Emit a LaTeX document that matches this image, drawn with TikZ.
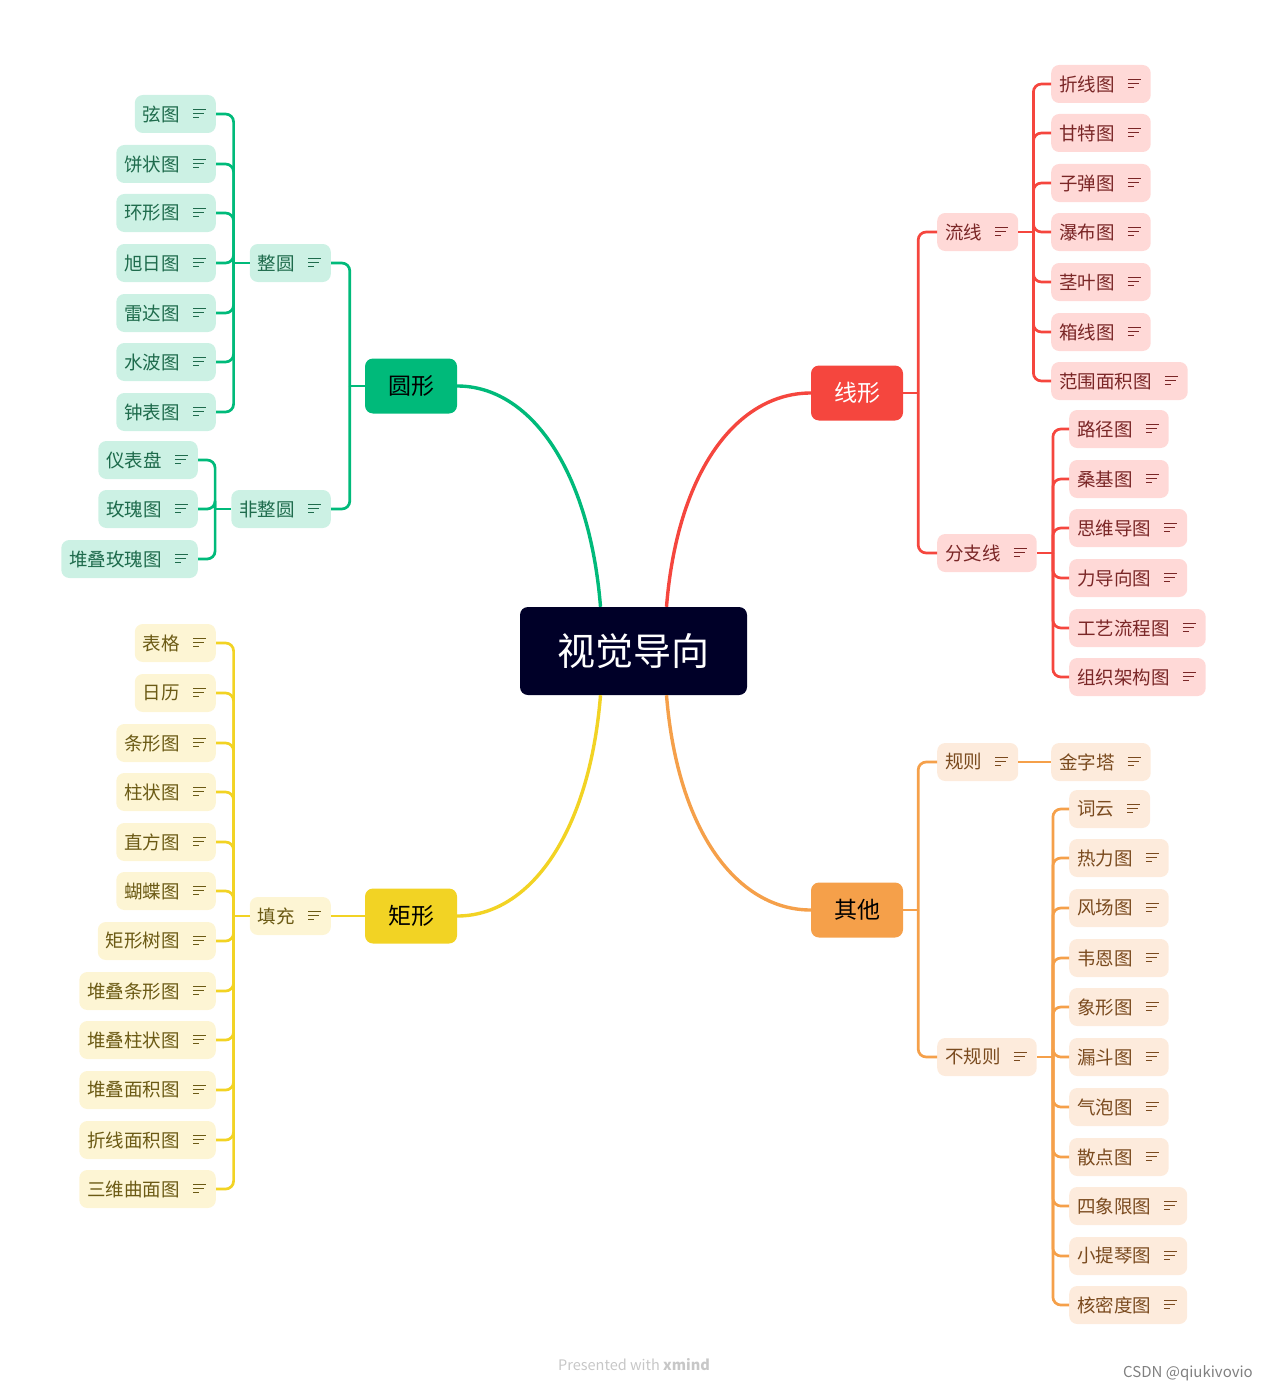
\documentclass[tikz,border=0pt]{standalone}
\usepackage{fontspec}
\setmainfont{Noto Sans CJK SC}
\definecolor{gM}{HTML}{00BA7A}
\definecolor{gL}{HTML}{CCF1E4}
\definecolor{gT}{HTML}{1E6B4C}
\definecolor{rM}{HTML}{F5463E}
\definecolor{rL}{HTML}{FFD9D7}
\definecolor{rT}{HTML}{7A2626}
\definecolor{yM}{HTML}{F2D324}
\definecolor{yL}{HTML}{FDF5D4}
\definecolor{yT}{HTML}{6B5A14}
\definecolor{oM}{HTML}{F5A04A}
\definecolor{oL}{HTML}{FDEBDC}
\definecolor{oT}{HTML}{7A4A1E}
\definecolor{rootc}{HTML}{000028}
\newcommand\noteicon[2]{\draw[#2, line width=1.7pt] (#1.east) ++(-23,-4.5) -- ++(13,0) (#1.east) ++(-23,-0.5) -- ++(11,0) (#1.east) ++(-23,3.5) -- ++(6,0);}
\newcommand\ic{\kern28pt}
\tikzset{
  box/.style={rounded corners=8pt, inner xsep=8pt, inner ysep=0pt, minimum height=38pt, font=\fontsize{18.5}{18.5}\selectfont},
  gbox/.style={box, fill=gL, text=gT},
  rbox/.style={box, fill=rL, text=rT},
  ybox/.style={box, fill=yL, text=yT},
  obox/.style={box, fill=oL, text=oT},
  mainbox/.style={rounded corners=8pt, minimum width=92pt, minimum height=55pt, inner sep=0pt, font=\fontsize{23}{23}\selectfont},
  conn/.style={line width=2.7pt},
  bigconn/.style={line width=3.4pt},
}
\begin{document}
\begin{tikzpicture}[x=1pt, y=-1pt]
\useasboundingbox (0,0) rectangle (1268,1391);
% root and main nodes
\node[rounded corners=8pt, fill=rootc, text=white, minimum width=227pt, minimum height=88pt, inner sep=0pt, font=\fontsize{38}{38}\selectfont] (root) at (633.5,651) {视觉导向};
\node[mainbox, fill=gM, text=black] (yuan) at (411,386) {圆形};
\node[mainbox, fill=rM, text=white] (xian) at (857,393) {线形};
\node[mainbox, fill=yM, text=black] (ju) at (411,916) {矩形};
\node[mainbox, fill=oM, text=black] (qt) at (857,910) {其他};
\draw[gM, bigconn] ([xshift=-33pt]root.north) .. controls +(-11,-137) and +(73,0) .. (yuan.east);
\draw[rM, bigconn] ([xshift=33pt]root.north) .. controls +(11,-137) and +(-73,0) .. (xian.west);
\draw[yM, bigconn] ([xshift=-33pt]root.south) .. controls +(-11,137) and +(73,0) .. (ju.east);
\draw[oM, bigconn] ([xshift=33pt]root.south) .. controls +(11,137) and +(-73,0) .. (qt.west);
% branch nodes
\node[gbox, anchor=east] (zy) at (331,263) {整圆\ic};
\node[gbox, anchor=east] (fzy) at (331,509) {非整圆\ic};
\node[rbox, anchor=west] (lx) at (937,232) {流线\ic};
\node[rbox, anchor=west] (fzx) at (937,553) {分支线\ic};
\node[ybox, anchor=east] (tc) at (331,916) {填充\ic};
\node[obox, anchor=west] (gz) at (937,762) {规则\ic};
\node[obox, anchor=west] (bgz) at (937,1057) {不规则\ic};
\foreach \n/\c in {zy/gT, fzy/gT, lx/rT, fzx/rT, tc/yT, gz/oT, bgz/oT} {\noteicon{\n}{\c}}
\draw[gM, conn] (yuan.west) -- ++(-15,0);
\draw[gM, conn, rounded corners=8pt] (yuan.west) ++(-15,0) |- (zy.east);
\draw[gM, conn, rounded corners=8pt] (yuan.west) ++(-15,0) |- (fzy.east);
\draw[rM, conn] (xian.east) -- ++(15,0);
\draw[rM, conn, rounded corners=8pt] (xian.east) ++(15,0) |- (lx.west);
\draw[rM, conn, rounded corners=8pt] (xian.east) ++(15,0) |- (fzx.west);
\draw[yM, conn] (ju.west) -- (tc.east);
\draw[oM, conn] (qt.east) -- ++(15,0);
\draw[oM, conn, rounded corners=8pt] (qt.east) ++(15,0) |- (gz.west);
\draw[oM, conn, rounded corners=8pt] (qt.east) ++(15,0) |- (bgz.west);
% green leaves
\draw[gM, conn] (zy.west) -- ++(-16,0);
\foreach \t/\y [count=\i] in {弦图/114, 饼状图/164, 环形图/213, 旭日图/263, 雷达图/313, 水波图/362, 钟表图/412} {
  \node[gbox, anchor=east] (ga\i) at (216,\y) {\t\ic};
  \draw[gM, conn, rounded corners=8pt] (zy.west) ++(-16,0) |- (ga\i.east);
  \noteicon{ga\i}{gT}
}
\draw[gM, conn] (fzy.west) -- ++(-16,0);
\foreach \t/\y [count=\i] in {仪表盘/460, 玫瑰图/509, 堆叠玫瑰图/559} {
  \node[gbox, anchor=east] (gb\i) at (198,\y) {\t\ic};
  \draw[gM, conn, rounded corners=8pt] (fzy.west) ++(-16,0) |- (gb\i.east);
  \noteicon{gb\i}{gT}
}
% red leaves
\draw[rM, conn] (lx.east) -- ++(15,0);
\foreach \t/\y [count=\i] in {折线图/84, 甘特图/133, 子弹图/183, 瀑布图/232, 茎叶图/282, 箱线图/332, 范围面积图/381} {
  \node[rbox, anchor=west] (ra\i) at (1051,\y) {\t\ic};
  \draw[rM, conn, rounded corners=8pt] (lx.east) ++(15,0) |- (ra\i.west);
  \noteicon{ra\i}{rT}
}
\draw[rM, conn] (fzx.east) -- ++(16,0);
\foreach \t/\y [count=\i] in {路径图/429, 桑基图/479, 思维导图/528, 力导向图/578, 工艺流程图/628, 组织架构图/677} {
  \node[rbox, anchor=west] (rb\i) at (1069,\y) {\t\ic};
  \draw[rM, conn, rounded corners=8pt] (fzx.east) ++(16,0) |- (rb\i.west);
  \noteicon{rb\i}{rT}
}
% yellow leaves
\draw[yM, conn] (tc.west) -- ++(-16,0);
\foreach \t/\y [count=\i] in {表格/643, 日历/693, 条形图/743, 柱状图/792, 直方图/842, 蝴蝶图/891, 矩形树图/941, 堆叠条形图/991, 堆叠柱状图/1040, 堆叠面积图/1090, 折线面积图/1140, 三维曲面图/1189} {
  \node[ybox, anchor=east] (ya\i) at (216,\y) {\t\ic};
  \draw[yM, conn, rounded corners=8pt] (tc.west) ++(-16,0) |- (ya\i.east);
  \noteicon{ya\i}{yT}
}
% orange leaves
\node[obox, anchor=west] (oa1) at (1051,762) {金字塔\ic};
\draw[oM, conn] (gz.east) -- (oa1.west);
\noteicon{oa1}{oT}
\draw[oM, conn] (bgz.east) -- ++(16,0);
\foreach \t/\y [count=\i] in {词云/809, 热力图/858, 风场图/908, 韦恩图/958, 象形图/1007, 漏斗图/1057, 气泡图/1107, 散点图/1157, 四象限图/1206, 小提琴图/1256, 核密度图/1305} {
  \node[obox, anchor=west] (ob\i) at (1069,\y) {\t\ic};
  \draw[oM, conn, rounded corners=8pt] (bgz.east) ++(16,0) |- (ob\i.west);
  \noteicon{ob\i}{oT}
}
% watermarks
\node[text=black!22, font=\fontsize{14.5}{14.5}\selectfont] (wm) at (634,1365) {Presented with \textbf{xmind}};
\node[text=black!50, font=\fontsize{15}{15}\selectfont] (csdn) at (1188,1373) {CSDN @qiukivovio};
\end{tikzpicture}
\end{document}
